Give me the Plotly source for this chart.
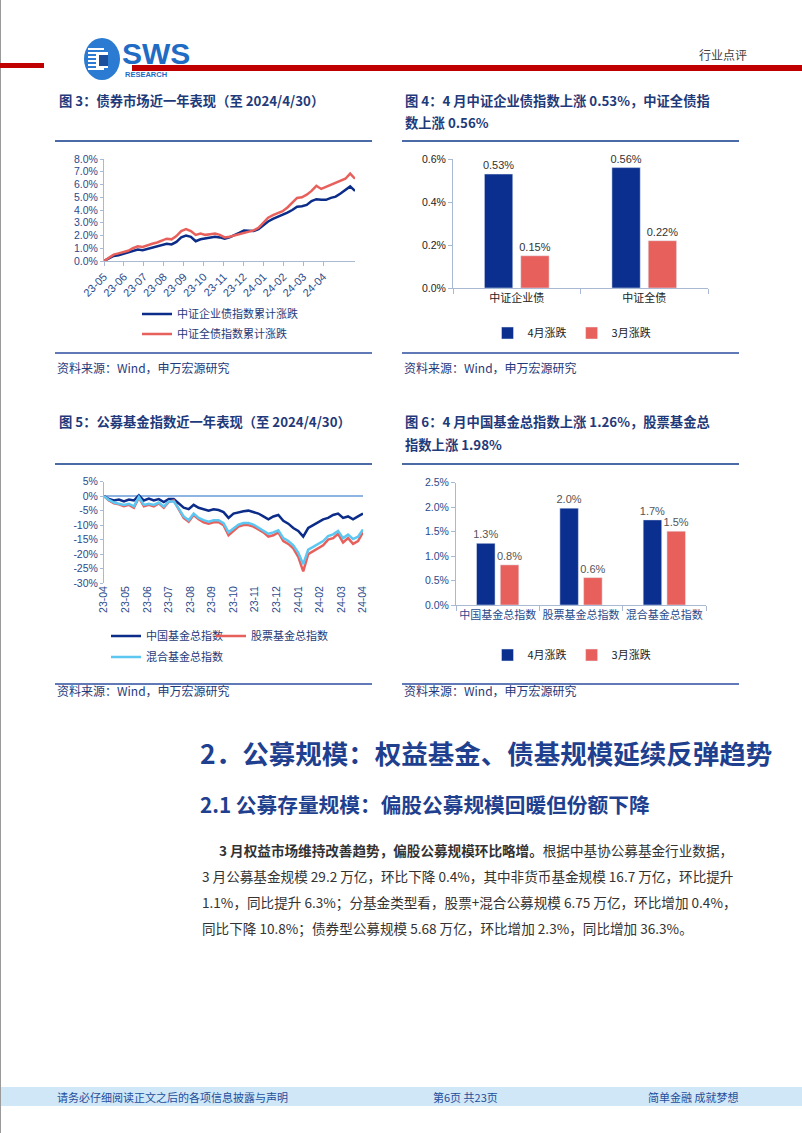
import plotly.graph_objects as go

W, H = 802, 1133


def px(x):
    return x / W


def py(y):
    return 1 - y / H


# ---------------- data ----------------
bond_tick_labels = ["23-05", "23-06", "23-07", "23-08", "23-09", "23-10",
                    "23-11", "23-12", "24-01", "24-02", "24-03", "24-04"]
corp_bond = [0.0, 0.2, 0.4, 0.45, 0.55, 0.65, 0.8, 0.9, 0.85, 0.95, 1.05, 1.15, 1.25,
             1.35, 1.3, 1.5, 1.85, 2.0, 1.9, 1.55, 1.7, 1.75, 1.8, 1.9, 1.85, 1.75,
             1.85, 2.0, 2.2, 2.4, 2.4, 2.35, 2.5, 2.8, 3.1, 3.3, 3.45, 3.6, 3.8, 4.0,
             4.25, 4.3, 4.4, 4.7, 4.85, 4.8, 4.8, 4.95, 5.05, 5.3, 5.55, 5.85, 5.5]
all_bond = [0.0, 0.25, 0.5, 0.6, 0.7, 0.8, 1.0, 1.15, 1.1, 1.25, 1.35, 1.45, 1.6,
            1.75, 1.7, 1.95, 2.35, 2.5, 2.35, 2.05, 2.15, 2.05, 2.1, 2.15, 2.05, 1.85,
            1.9, 2.0, 2.15, 2.25, 2.3, 2.4, 2.6, 3.0, 3.4, 3.6, 3.75, 3.9, 4.2, 4.6,
            4.95, 5.0, 5.2, 5.5, 5.9, 5.65, 5.8, 5.95, 6.1, 6.25, 6.45, 6.85, 6.45]
bond_y_ticks = [0, 1, 2, 3, 4, 5, 6, 7, 8]

fund_tick_labels = ["23-04", "23-05", "23-06", "23-07", "23-08", "23-09", "23-10",
                    "23-11", "23-12", "24-01", "24-02", "24-03", "24-04"]
cn_fund = [0, -1.0, -1.5, -1.2, -1.8, -1.2, -1.5, 0.3, -1.5, -0.8, -1.5, -1.0, -2.0,
           -1.0, -1.0, -2.5, -4.0, -4.5, -3.0, -4.0, -4.5, -5.0, -4.5, -4.8, -5.5, -7.5,
           -6.0, -5.5, -5.2, -5.0, -5.5, -6.0, -7.0, -8.0, -7.0, -6.5, -8.5, -9.5, -11.0,
           -12.0, -14.0, -11.0, -10.0, -9.0, -8.0, -7.5, -6.5, -6.0, -7.5, -7.0, -8.0,
           -7.0, -6.0]
stock_fund = [0, -1.5, -2.5, -2.8, -3.5, -3.0, -4.0, -0.5, -3.5, -3.0, -3.5, -2.5, -4.0,
              -2.0, -1.5, -4.5, -7.5, -8.8, -6.5, -8.0, -9.0, -9.5, -9.0, -9.0, -10.0,
              -13.5, -12.0, -10.5, -10.0, -10.0, -10.5, -11.5, -12.5, -14.0, -13.5,
              -12.5, -15.5, -16.5, -18.0, -21.0, -26.0, -20.0, -19.0, -18.0, -17.0,
              -15.0, -14.5, -13.0, -16.0, -14.5, -16.5, -15.5, -12.5]
mixed_fund = [0, -1.3, -2.2, -2.5, -3.0, -2.6, -3.5, -0.3, -3.0, -2.6, -3.0, -2.2, -3.6,
              -1.8, -1.8, -4.3, -7.0, -8.3, -6.0, -7.5, -8.3, -8.8, -8.3, -8.3, -9.3,
              -12.5, -11.0, -9.8, -9.3, -9.3, -9.8, -10.8, -11.8, -13.0, -12.5, -11.8,
              -14.5, -15.5, -17.0, -19.5, -23.5, -18.5, -17.5, -16.5, -15.5, -13.8,
              -13.2, -12.0, -14.5, -13.3, -14.8, -14.0, -11.5]
fund_y_ticks = [5, 0, -5, -10, -15, -20, -25, -30]
fund_y_labels = ["5%", "0%", "-5%", "-10%", "-15%", "-20%", "-25%", "-30%"]

bond_cats = ["中证企业债", "中证全债"]
bond_apr = [0.53, 0.56]
bond_mar = [0.15, 0.22]

fund_cats = ["中国基金总指数", "股票基金总指数", "混合基金总指数"]
fund_apr = [1.26, 1.98, 1.74]
fund_mar = [0.82, 0.56, 1.51]

# ---------------- style ----------------
CJK = "'Noto Sans CJK SC', 'Microsoft YaHei', sans-serif"
NUM = "Arial, 'Liberation Sans', 'Noto Sans CJK SC', sans-serif"
NAVY = "#2B4A8B"
TITLE = "#1F3A7A"
HEAD = "#1F3F8F"
AXIS = "#A9B9D3"
DARKBLUE = "#0B2C88"
RED = "#E8605C"
LIGHTBLUE = "#5CC8F2"
BARBLUE = "#0B2F8E"

fig = go.Figure()

# chart 3 lines
xb = list(range(len(corp_bond)))
fig.add_trace(go.Scatter(x=xb, y=corp_bond, mode="lines", name="中证企业债指数累计涨跌",
                         line=dict(color=DARKBLUE, width=2.5), xaxis="x", yaxis="y",
                         legend="legend"))
fig.add_trace(go.Scatter(x=xb, y=all_bond, mode="lines", name="中证全债指数累计涨跌",
                         line=dict(color=RED, width=2.5), xaxis="x", yaxis="y",
                         legend="legend2"))

# chart 4 bars
fig.add_trace(go.Bar(x=bond_cats, y=bond_apr, name="4月涨跌", marker_color=BARBLUE,
                     text=[f"{v:.2f}%" for v in bond_apr], textposition="outside",
                     textfont=dict(size=11, color="#333333", family=NUM),
                     cliponaxis=False, constraintext="none",
                     xaxis="x2", yaxis="y2", legend="legend5"))
fig.add_trace(go.Bar(x=bond_cats, y=bond_mar, name="3月涨跌", marker_color=RED,
                     text=[f"{v:.2f}%" for v in bond_mar], textposition="outside",
                     textfont=dict(size=11, color="#333333", family=NUM),
                     cliponaxis=False, constraintext="none",
                     xaxis="x2", yaxis="y2", legend="legend5"))

# chart 5 lines
xf = list(range(len(cn_fund)))
fig.add_trace(go.Scatter(x=xf, y=cn_fund, mode="lines", name="中国基金总指数",
                         line=dict(color=DARKBLUE, width=2.5), xaxis="x3", yaxis="y3",
                         legend="legend3"))
fig.add_trace(go.Scatter(x=xf, y=stock_fund, mode="lines", name="股票基金总指数",
                         line=dict(color=RED, width=2.5), xaxis="x3", yaxis="y3",
                         legend="legend7"))
fig.add_trace(go.Scatter(x=xf, y=mixed_fund, mode="lines", name="混合基金总指数",
                         line=dict(color=LIGHTBLUE, width=2.5), xaxis="x3", yaxis="y3",
                         legend="legend4"))

# chart 6 bars
fig.add_trace(go.Bar(x=fund_cats, y=fund_apr, name="4月涨跌", marker_color=BARBLUE,
                     text=[f"{v:.1f}%" for v in fund_apr], textposition="outside",
                     textfont=dict(size=11, color="#555555", family=NUM),
                     cliponaxis=False, constraintext="none",
                     xaxis="x4", yaxis="y4", legend="legend6"))
fig.add_trace(go.Bar(x=fund_cats, y=fund_mar, name="3月涨跌", marker_color=RED,
                     text=[f"{v:.1f}%" for v in fund_mar], textposition="outside",
                     textfont=dict(size=11, color="#555555", family=NUM),
                     cliponaxis=False, constraintext="none",
                     xaxis="x4", yaxis="y4", legend="legend6"))

tickfont_navy = dict(size=10.5, color=NAVY, family=NUM)
tickfont_dark = dict(size=10.5, color="#222222", family=NUM)

n3 = len(corp_bond) - 1
step3 = n3 * 0.0794
n5 = len(cn_fund) - 1

legend_common = dict(bgcolor="rgba(0,0,0,0)", xanchor="left", yanchor="middle",
                     orientation="h", font=dict(size=11, color=TITLE, family=CJK))

fig.update_layout(
    width=W, height=H,
    margin=dict(l=0, r=0, t=0, b=0, pad=0, autoexpand=False),
    paper_bgcolor="white", plot_bgcolor="rgba(0,0,0,0)",
    showlegend=True,
    barmode="group", bargap=0.43, bargroupgap=0.22,
    xaxis=dict(domain=[px(104), px(355)], anchor="y", range=[0, n3],
               tickmode="array", tickvals=[k * step3 for k in range(len(bond_tick_labels))],
               ticktext=bond_tick_labels, tickangle=-45,
               tickfont=dict(size=11, color=NAVY, family=NUM),
               showline=True, linecolor=AXIS, ticks="outside", ticklen=4, tickcolor=AXIS,
               showgrid=False, zeroline=False),
    yaxis=dict(domain=[py(261), py(159)], anchor="x", range=[0, 8],
               tickmode="array", tickvals=bond_y_ticks,
               ticktext=[f"{v:.1f}%" for v in bond_y_ticks], tickfont=tickfont_navy,
               showline=True, linecolor=AXIS, ticks="outside", ticklen=3, tickcolor=AXIS,
               showgrid=False, zeroline=False),
    xaxis2=dict(domain=[px(453), px(708)], anchor="y2", type="category",
                tickson="boundaries", ticks="outside", ticklen=5, tickcolor=AXIS,
                showline=True, linecolor=AXIS, showgrid=False, tickangle=0,
                tickfont=dict(size=11, color="#222222", family=CJK)),
    yaxis2=dict(domain=[py(288), py(159)], anchor="x2", range=[0, 0.6], dtick=0.2,
                tickformat=".1f", ticksuffix="%", tickfont=tickfont_dark,
                showline=True, linecolor=AXIS, ticks="outside", ticklen=4, tickcolor=AXIS,
                showgrid=False, zeroline=False),
    xaxis3=dict(domain=[px(104), px(363)], anchor="y3", range=[0, n5],
                tickmode="array",
                tickvals=[k * n5 / (len(fund_tick_labels) - 1) for k in range(len(fund_tick_labels))],
                ticktext=fund_tick_labels, tickangle=-90, tickfont=tickfont_navy,
                showline=False, ticks="", showgrid=False, zeroline=False),
    yaxis3=dict(domain=[py(583), py(481.7)], anchor="x3", range=[-30, 5],
                tickmode="array", tickvals=fund_y_ticks, ticktext=fund_y_labels,
                tickfont=tickfont_navy, showline=True, linecolor=AXIS,
                ticks="outside", ticklen=3, tickcolor=AXIS, showgrid=False,
                zeroline=True, zerolinecolor="#8DB4E2", zerolinewidth=1.5),
    xaxis4=dict(domain=[px(456), px(706)], anchor="y4", type="category",
                tickson="boundaries", ticks="outside", ticklen=5, tickcolor=AXIS,
                showline=True, linecolor=AXIS, showgrid=False, tickangle=0,
                tickfont=dict(size=11, color=NAVY, family=CJK)),
    yaxis4=dict(domain=[py(605), py(482.7)], anchor="x4", range=[0, 2.5], dtick=0.5,
                tickformat=".1f", ticksuffix="%", tickfont=tickfont_navy,
                showline=True, linecolor=AXIS, ticks="outside", ticklen=4, tickcolor=AXIS,
                showgrid=False, zeroline=False),
    legend=dict(legend_common, x=px(137), y=py(314)),
    legend2=dict(legend_common, x=px(137), y=py(334)),
    legend3=dict(legend_common, x=px(106), y=py(636)),
    legend7=dict(legend_common, x=px(211), y=py(636)),
    legend4=dict(legend_common, x=px(106), y=py(657)),
    legend5=dict(legend_common, x=px(572), y=py(333), xanchor="center",
                 font=dict(size=11, color="#222222", family=CJK)),
    legend6=dict(legend_common, x=px(572), y=py(655), xanchor="center",
                 font=dict(size=11, color="#222222", family=CJK)),
)

shapes = []
annotations = []


def rect(x0, y0, x1, y1, color, layer="above"):
    shapes.append(dict(type="rect", xref="paper", yref="paper", x0=px(x0), x1=px(x1),
                       y0=py(y1), y1=py(y0), fillcolor=color, line=dict(width=0), layer=layer))


def hline(x0, x1, y, color, width):
    shapes.append(dict(type="line", xref="paper", yref="paper", x0=px(x0), x1=px(x1),
                       y0=py(y), y1=py(y), line=dict(color=color, width=width)))


def txt(x, y, s, size, color, family=CJK, xanchor="left"):
    annotations.append(dict(x=px(x), y=py(y), xref="paper", yref="paper", text=s,
                            showarrow=False, xanchor=xanchor, yanchor="middle",
                            font=dict(size=size, color=color, family=family)))


# page border
shapes.append(dict(type="line", xref="paper", yref="paper", x0=px(0.5), x1=px(0.5),
                   y0=0, y1=1, line=dict(color="#9A9A9A", width=1)))

# header
rect(0, 63, 44, 68, "#C00000")
rect(132, 65, 802, 71, "#C00000")
shapes.append(dict(type="circle", xref="paper", yref="paper", x0=px(84), x1=px(120),
                   y0=py(80), y1=py(38), fillcolor="#2A7BD1", line=dict(width=0)))
for yy in [48, 52, 56, 60, 64, 68]:
    rect(88, yy, 104, yy + 2, "white")
rect(96, 52, 108, 68, "white")
rect(99, 55, 108, 66, "#1B4F9C")
txt(120, 54, "<b>SWS</b>", 30, "#1F6CC4", family="Arial, 'Liberation Sans'")
txt(123, 75, "<b>RESEARCH</b>", 7.5, "#1F6CC4", family="Arial, 'Liberation Sans'")
txt(697, 55, "行业点评", 12, "#404040")

# chart titles
TS = 13.3
txt(57, 100, "<b>图 3：债券市场近一年表现（至 2024/4/30）</b>", TS, TITLE)
txt(403, 100, "<b>图 4：4 月中证企业债指数上涨 0.53%，中证全债指</b>", TS, TITLE)
txt(403, 122, "<b>数上涨 0.56%</b>", TS, TITLE)
txt(57, 421, "<b>图 5：公募基金指数近一年表现（至 2024/4/30）</b>", TS, TITLE)
txt(403, 421, "<b>图 6：4 月中国基金总指数上涨 1.26%，股票基金总</b>", TS, TITLE)
txt(403, 444, "<b>指数上涨 1.98%</b>", TS, TITLE)

# rules
hline(55, 372, 141, "#4A6BA5", 2)
hline(402, 739, 141, "#4A6BA5", 2)
hline(55, 372, 353, "#2E4DA0", 1.5)
hline(402, 739, 353, "#2E4DA0", 1.5)
hline(55, 372, 464, "#4A6BA5", 2)
hline(402, 739, 464, "#4A6BA5", 2)
hline(55, 372, 684, "#2E4DA0", 1.5)
hline(402, 739, 684, "#2E4DA0", 1.5)

src = "资料来源：Wind，申万宏源研究"
txt(55, 367, src, 12, TITLE)
txt(402, 367, src, 12, TITLE)
txt(55, 690, src, 12, TITLE)
txt(402, 690, src, 12, TITLE)

# section headings
txt(198, 752, "<b>2．公募规模：权益基金、债基规模延续反弹趋势</b>", 26.5, HEAD)
txt(198, 804, "<b>2.1 公募存量规模：偏股公募规模回暖但份额下降</b>", 20.7, HEAD)

BODY = "#333333"
BS = 13.6
txt(217, 850, "<b>3 月权益市场维持改善趋势，偏股公募规模环比略增。</b>根据中基协公募基金行业数据，", BS, BODY)
txt(200, 876, "3 月公募基金规模 29.2 万亿，环比下降 0.4%，其中非货币基金规模 16.7 万亿，环比提升", BS, BODY)
txt(200, 902, "1.1%，同比提升 6.3%；分基金类型看，股票+混合公募规模 6.75 万亿，环比增加 0.4%，", BS, BODY)
txt(200, 928, "同比下降 10.8%；债券型公募规模 5.68 万亿，环比增加 2.3%，同比增加 36.3%。", BS, BODY)

# footer
rect(0, 1087, 802, 1106, "#CFE7F7", layer="below")
txt(55, 1097, "请务必仔细阅读正文之后的各项信息披露与声明", 11, "#1F4E9C")
txt(465, 1097, "第6页 共23页", 11, "#1F4E9C", xanchor="center")
txt(740, 1097, "简单金融 成就梦想", 11, "#1F4E9C", xanchor="right")

fig.update_layout(shapes=shapes, annotations=annotations)

fig.write_html("out.html")
